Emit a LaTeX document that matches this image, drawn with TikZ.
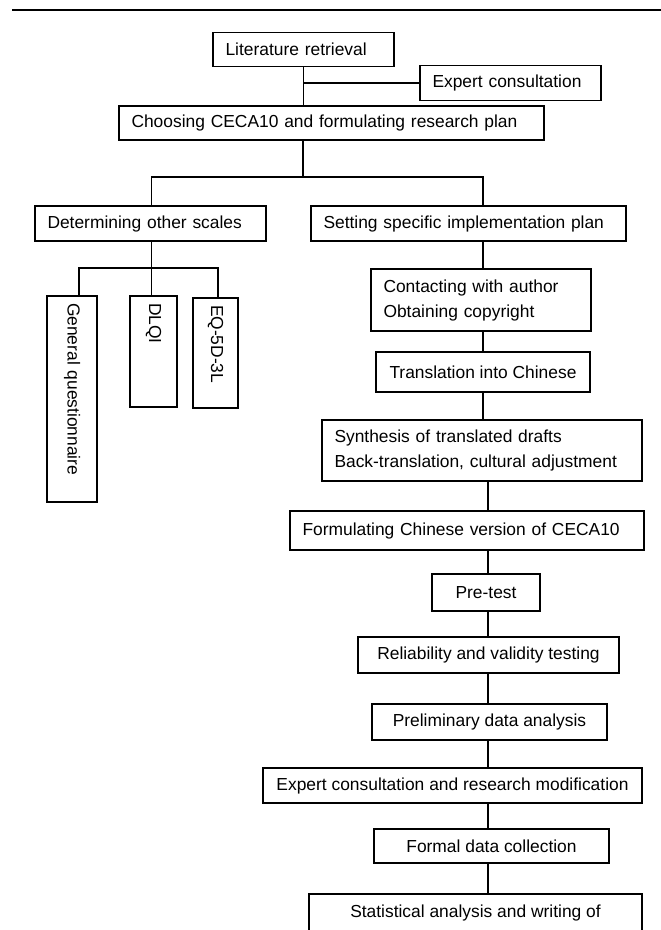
\documentclass[tikz,border=0pt]{standalone}
\usepackage{fontspec}
\setmainfont{Liberation Sans}

\begin{document}
\begin{tikzpicture}[x=1pt, y=-1pt,
        stepbox/.style={draw, line width=1.5pt, font=\fontsize{17.4}{25}\selectfont,
                        inner xsep=12.5pt, inner ysep=2pt},
        leftbox/.style={stepbox, align=left},
        midbox/.style={stepbox, align=center},
        scalebox/.style={stepbox, rotate=-90, align=left, inner xsep=7pt},
        link/.style={line width=1.5pt},
    ]
        \useasboundingbox (0,0) rectangle (661,930);
        \clip (0,0) rectangle (661,930);

        % Top rule
        \draw[line width=2.3pt] (12,10) -- (661,10);

        % Spine and tap positions
        \coordinate (spineA) at (483,0);
        \coordinate (spineB) at (488,0);
        \coordinate (split) at (303,177);
        \coordinate (split2) at (0,268);
        \coordinate (tapgq) at (79,0);
        \coordinate (tapdlqi) at (151.5,0);
        \coordinate (tapeq) at (218,0);

        % Preparation
        \node[leftbox, text width=156pt, minimum height=34pt] (lit) at (303.5,49.5)
            {Literature retrieval};
        \node[leftbox, text width=156pt, minimum height=35pt] (expert) at (510.5,83)
            {Expert consultation};
        \node[leftbox, text width=400pt, minimum height=34pt] (choose) at (331.5,123)
            {Choosing CECA10 and formulating research plan};
        \draw[link] (lit.south) -- (lit.south |- choose.north);
        \draw[link] (expert.west) -- (expert.west -| lit.south);

        % Two branches
        \node[leftbox, text width=206pt, minimum height=35pt] (det) at (150.5,223.5)
            {Determining other scales};
        \node[leftbox, text width=290pt, minimum height=35pt] (setplan) at (468.5,223.5)
            {Setting specific implementation plan};
        \draw[link] (choose.south -| split) -- (split);
        \draw[link] (det.north -| tapdlqi) |- (split) -| (setplan.north -| spineA);

        % Other scales
        \node[scalebox, text width=192pt, minimum height=50pt] (gq) at (72,399)
            {General questionnaire};
        \node[scalebox, text width=97pt, minimum height=47pt] (dlqi) at (153.5,351.5)
            {DLQI};
        \node[scalebox, text width=96pt, minimum height=45pt] (eq) at (215.5,353)
            {EQ-5D-3L};
        \draw[link] (det.south -| tapdlqi) -- (dlqi.west -| tapdlqi);
        \draw[link] (gq.west -| tapgq) -- (tapgq |- split2) -- (tapeq |- split2) -- (eq.west -| tapeq);

        % Implementation steps
        \node[leftbox, text width=195pt, minimum height=62pt] (contact) at (481,300)
            {Contacting with author\\Obtaining copyright};
        \node[midbox, minimum width=214pt, minimum height=40pt] (transl) at (483,372)
            {Translation into Chinese};
        \node[leftbox, text width=295pt, minimum height=61pt] (synth) at (482,450.5)
            {Synthesis of translated drafts\\Back-translation, cultural adjustment};
        \node[leftbox, text width=329pt, minimum height=39pt] (formul) at (467,530.5)
            {Formulating Chinese version of CECA10};
        \node[midbox, minimum width=108pt, minimum height=37pt] (pretest) at (486,592.5)
            {Pre-test};
        \node[midbox, minimum width=261pt, minimum height=36pt] (reliab) at (488.5,655)
            {Reliability and validity testing};
        \node[midbox, minimum width=235pt, minimum height=36pt] (prelim) at (489.5,722)
            {Preliminary data analysis};
        \node[midbox, minimum width=379pt, minimum height=35pt] (expmod) at (452.5,785.5)
            {Expert consultation and research modification};
        \node[midbox, minimum width=235pt, minimum height=34pt] (formal) at (491.5,846)
            {Formal data collection};
        \node[midbox, anchor=north, minimum width=333pt, inner ysep=11pt, text depth=45pt] (stat)
            at (475.5,893) {Statistical analysis and writing of};

        % Links
        \draw[link] (setplan.south -| spineA) -- (contact.north -| spineA);
        \draw[link] (contact.south -| spineA) -- (transl.north -| spineA);
        \draw[link] (transl.south -| spineA) -- (synth.north -| spineA);
        \draw[link] (synth.south -| spineB) -- (formul.north -| spineB);
        \draw[link] (formul.south -| spineB) -- (pretest.north -| spineB);
        \draw[link] (pretest.south -| spineB) -- (reliab.north -| spineB);
        \draw[link] (reliab.south -| spineB) -- (prelim.north -| spineB);
        \draw[link] (prelim.south -| spineB) -- (expmod.north -| spineB);
        \draw[link] (expmod.south -| spineB) -- (formal.north -| spineB);
        \draw[link] (formal.south -| spineB) -- (stat.north -| spineB);
    \end{tikzpicture}
\end{document}
